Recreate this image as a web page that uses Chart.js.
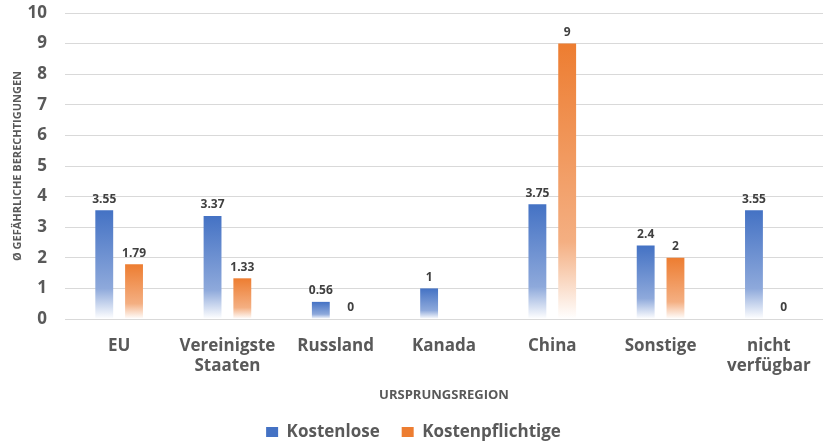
<!DOCTYPE html>
<html>
<head>
<meta charset="utf-8">
<script src="https://cdn.jsdelivr.net/npm/chart.js@4"></script>
<style>
  html, body { margin: 0; padding: 0; background: #fff; }
  #wrap { width: 823px; height: 443px; }
</style>
</head>
<body>
<div id="wrap"><canvas id="chart"></canvas></div>
<script>
// --- data ---
const regions = ['EU', ['Vereinigste', 'Staaten'], 'Russland', 'Kanada', 'China', 'Sonstige', ['nicht', 'verfügbar']];
const kostenlose = [3.55, 3.37, 0.56, 1, 3.75, 2.4, 3.55];
const kostenpflichtige = [1.79, 1.33, 0, null, 9, 2, 0];
const yTicks = [0, 1, 2, 3, 4, 5, 6, 7, 8, 9, 10];

const FONT = "'Open Sans', sans-serif";
const GREY = '#595959';

// each bar fades from full colour at the top to white at the base
const fade = (top, mid) => (ctx) => {
    const chart = ctx.chart;
    const v = ctx.raw;
    if (!chart.chartArea || v == null) return top;
    const y = chart.scales.y;
    const y0 = y.getPixelForValue(v), y1 = y.getPixelForValue(0);
    if (y1 - y0 < 1) return top;
    const g = chart.ctx.createLinearGradient(0, y0, 0, y1);
    g.addColorStop(0, top);
    g.addColorStop(0.72, mid);
    g.addColorStop(1, '#ffffff');
    return g;
};

const valueLabels = {
    id: 'valueLabels',
    afterDatasetsDraw(chart) {
        const c = chart.ctx;
        c.save();
        c.font = "bold 12px " + FONT;
        c.fillStyle = '#404040';
        c.textAlign = 'center';
        c.textBaseline = 'bottom';
        chart.data.datasets.forEach((ds, i) => {
            chart.getDatasetMeta(i).data.forEach((bar, j) => {
                const v = ds.data[j];
                if (v == null) return;
                c.fillText(String(v), bar.x, bar.y - 5);
            });
        });
        c.restore();
    }
};

// legend keeps its wide item spacing but takes less height
const legendHeight = {
    id: 'legendHeight',
    beforeLayout(chart) {
        const lg = chart.legend;
        if (!lg || lg._tight) return;
        const fit = lg.fit;
        lg.fit = function () { fit.call(this); this.height = 41.5; };
        lg._tight = true;
    }
};

new Chart(document.getElementById('chart'), {
    type: 'bar',
    data: {
        labels: regions,
        datasets: [
            { label: 'Kostenlose', data: kostenlose, backgroundColor: fade('#4472C4', '#8EA9DB') },
            { label: 'Kostenpflichtige', data: kostenpflichtige, backgroundColor: fade('#ED7D31', '#F4AF82') }
        ]
    },
    options: {
        responsive: true,
        maintainAspectRatio: false,
        animation: false,
        devicePixelRatio: 1,
        layout: { padding: { top: 0, right: 0, left: 4, bottom: 0 } },
        datasets: { bar: { categoryPercentage: 0.55, barPercentage: 0.6 } },
        plugins: {
            tooltip: { enabled: false },
            legend: {
                position: 'bottom',
                labels: {
                    boxWidth: 12, boxHeight: 10, padding: 22,
                    color: GREY,
                    font: { family: FONT, size: 17, weight: 'bold' },
                    generateLabels: (chart) => chart.data.datasets.map((ds, i) => ({
                        text: ds.label,
                        fillStyle: i === 0 ? '#4472C4' : '#ED7D31',
                        strokeStyle: 'transparent', lineWidth: 0,
                        fontColor: GREY,
                        datasetIndex: i
                    }))
                }
            }
        },
        scales: {
            x: {
                afterFit: (axis) => { axis.height = 82.5; },
                grid: { display: false },
                border: { color: '#d9d9d9' },
                ticks: { color: GREY, font: { family: FONT, size: 17, weight: 'bold' }, maxRotation: 0, autoSkip: false, padding: 9 },
                title: { display: true, text: 'URSPRUNGSREGION', color: GREY, font: { family: FONT, size: 13, weight: 'bold' }, padding: { top: 0, bottom: -2 } }
            },
            y: {
                min: 0, max: 10,
                afterBuildTicks: (axis) => { axis.ticks = yTicks.map(v => ({ value: v })); },
                afterFit: (axis) => { axis.width = 61; axis.paddingTop = 13; axis.paddingBottom = 0; },
                grid: { color: '#d9d9d9', drawTicks: false },
                border: { display: false },
                ticks: { color: GREY, font: { family: FONT, size: 17, weight: 'bold' }, padding: 18 },
                title: { display: true, text: 'Ø GEFÄHRLICHE BERECHTIGUNGEN', color: GREY, font: { family: FONT, size: 11, weight: 'bold' }, padding: { top: 7, bottom: 2 } }
            }
        }
    },
    plugins: [valueLabels, legendHeight]
});
</script>
</body>
</html>
